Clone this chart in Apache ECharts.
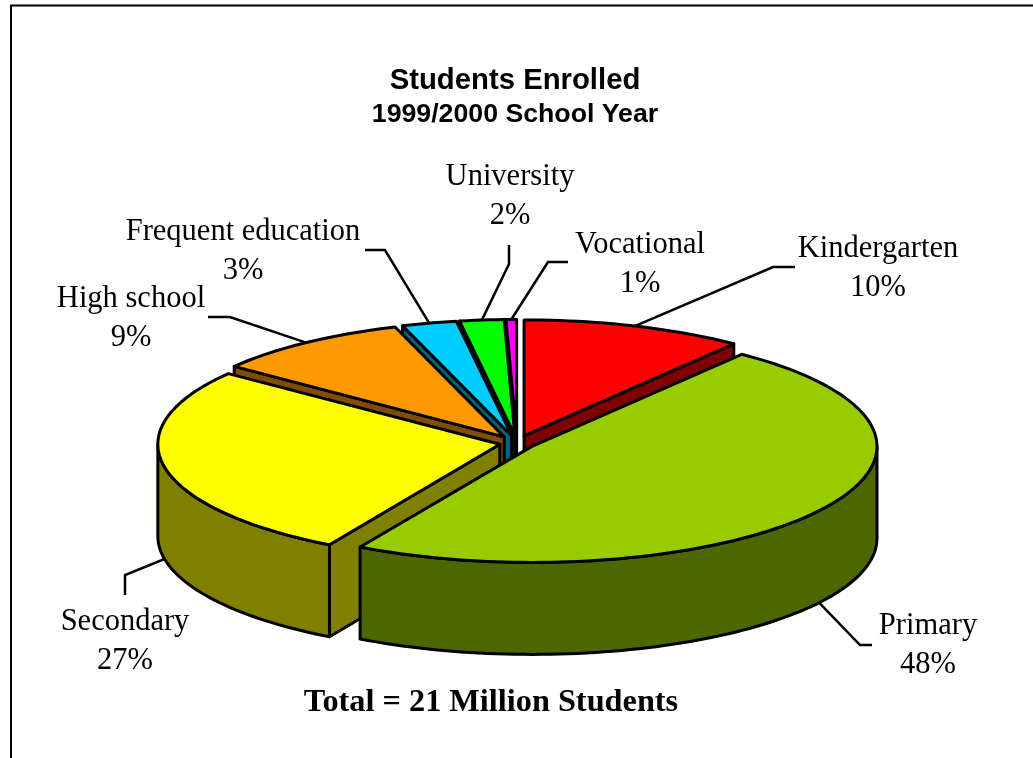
<!DOCTYPE html>
<html>
<head>
<meta charset="utf-8">
<script src="https://cdn.jsdelivr.net/npm/echarts@6/dist/echarts.min.js"></script>
<style>
html, body { margin: 0; padding: 0; background: #fff; }
#chart { width: 1033px; height: 758px; }
</style>
</head>
<body>
<div id="chart"></div>
<script>
// share of students in percent, clockwise from 12 o'clock
const categories = ['Kindergarten', 'Primary', 'Secondary', 'High school', 'Frequent education', 'University', 'Vocational']
const shares = [10.4, 47.9, 27.1, 9.4, 2.6, 2.1, 0.5]

const topColors = ['#ff0000', '#99cc00', '#ffff00', '#ff9900', '#00ccff', '#00ff00', '#ff00ff']
const sideColors = ['#800000', '#4c6600', '#808000', '#804c00', '#006680', '#008000', '#800080']

// where the labels sit and the elbow(s) of their leader lines
const labelPos = [[878, 268], [928, 645], [125, 641], [131, 318], [243, 251], [510, 196], [640, 264]]
const leaderBends = [
  [[773, 267], [795, 267]],
  [[860, 645], [872, 645]],
  [[125, 575], [125, 595]],
  [[230, 317], [208, 317]],
  [[385, 250], [365, 250]],
  [[509, 264], [509, 245]],
  [[548, 262], [568, 262]]
]

const center = [517, 443]
const ry = 116
const depth = 92
const tiltK = 0.341
const lineW = 3
const RAD = Math.PI / 180
// the original has some perspective, so the pull-out and width vary a bit per slice
const explodes = [22, 18, 17.5, 22, 22, 22, 22]
const radiiX = [345, 345, 342, 340, 340, 340, 340]

const total = shares.reduce((a, b) => a + b, 0)
const slices = []
let acc = 0
shares.forEach((v, i) => {
  const start = acc
  acc += v / total * 360
  const mid = (start + acc) / 2
  slices.push({
    start,
    end: acc,
    mid,
    rx: radiiX[i],
    apex: [
      center[0] + explodes[i] * Math.sin(mid * RAD),
      center[1] - explodes[i] * tiltK * Math.cos(mid * RAD)
    ]
  })
})

const rim = (s, deg, drop = 0) => [
  s.apex[0] + s.rx * Math.sin(deg * RAD),
  s.apex[1] - ry * Math.cos(deg * RAD) + drop
]

const arc = (s, from, to, drop = 0) => {
  const pts = []
  const n = Math.max(2, Math.ceil((to - from) / 1.5))
  for (let k = 0; k <= n; k++) pts.push(rim(s, from + (to - from) * k / n, drop))
  return pts
}

const poly = (points, fill) => ({
  type: 'polygon',
  shape: { points },
  style: { fill, stroke: '#000', lineWidth: lineW, lineJoin: 'round' }
})

// radial cut face, only drawn when it turns towards the viewer
const cutFace = (s, deg, normal, fill) => {
  if (Math.cos(normal * RAD) > -0.001) return null
  const a = s.apex
  const r = rim(s, deg)
  return poly([a, r, [r[0], r[1] + depth], [a[0], a[1] + depth]], fill)
}

const renderSlice = (params, api) => {
  const i = api.value(0)
  const s = slices[i]
  const children = []

  const f1 = cutFace(s, s.start, s.start - 90, sideColors[i])
  const f2 = cutFace(s, s.end, s.end + 90, sideColors[i])
  if (f1) children.push(f1)
  if (f2) children.push(f2)

  // outer wall only on the front half
  const wallFrom = Math.max(s.start, 90)
  const wallTo = Math.min(s.end, 270)
  if (wallTo > wallFrom) {
    children.push(poly(arc(s, wallFrom, wallTo).concat(arc(s, wallFrom, wallTo, depth).reverse()), sideColors[i]))
  }

  children.push(poly([s.apex].concat(arc(s, s.start, s.end)), topColors[i]))
  return { type: 'group', children }
}

const renderLabel = (params, api) => {
  const i = api.value(0)
  const s = slices[i]
  const front = Math.cos(s.mid * RAD) < 0
  return {
    type: 'group',
    children: [
      {
        type: 'polyline',
        shape: { points: [rim(s, s.mid, front ? depth : 0)].concat(leaderBends[i]) },
        style: { fill: null, stroke: '#000', lineWidth: 2.5 }
      },
      {
        type: 'text',
        style: {
          x: labelPos[i][0],
          y: labelPos[i][1],
          text: categories[i] + '\n' + Math.round(shares[i] / total * 100) + '%',
          align: 'center',
          verticalAlign: 'middle',
          lineHeight: 39,
          font: '30.5px "Liberation Serif"',
          fill: '#000'
        }
      }
    ]
  }
}

// paint far slices first, the ones nearest the viewer last
const drawOrder = categories
  .map((c, i) => i)
  .sort((p, q) => Math.abs(slices[q].mid - 180) - Math.abs(slices[p].mid - 180))

const chart = echarts.init(document.getElementById('chart'), null, { renderer: 'canvas' })

chart.setOption({
  animation: false,
  backgroundColor: '#fff',
  title: [
    {
      text: 'Students Enrolled',
      left: 510,
      top: 61,
      textAlign: 'center',
      textStyle: { fontFamily: 'Liberation Sans', fontWeight: 'bold', fontSize: 29.3, color: '#000' }
    },
    {
      text: '1999/2000 School Year',
      left: 510,
      top: 96,
      textAlign: 'center',
      textStyle: { fontFamily: 'Liberation Sans', fontWeight: 'bold', fontSize: 26.7, color: '#000' }
    },
    {
      text: 'Total = 21 Million Students',
      left: 486,
      top: 682,
      textAlign: 'center',
      textStyle: { fontFamily: 'Liberation Serif', fontWeight: 'bold', fontSize: 32.3, color: '#000' }
    }
  ],
  graphic: [
    {
      type: 'polyline',
      shape: { points: [[11, 760], [11, 5.5], [1035, 5.5]] },
      style: { fill: null, stroke: '#000', lineWidth: 2 }
    }
  ],
  series: [
    {
      type: 'custom',
      coordinateSystem: 'none',
      renderItem: renderSlice,
      data: drawOrder.map(i => [i]),
      silent: true,
      z: 2
    },
    {
      type: 'custom',
      coordinateSystem: 'none',
      renderItem: renderLabel,
      data: categories.map((c, i) => [i]),
      silent: true,
      z: 1
    }
  ]
})
</script>
</body>
</html>
